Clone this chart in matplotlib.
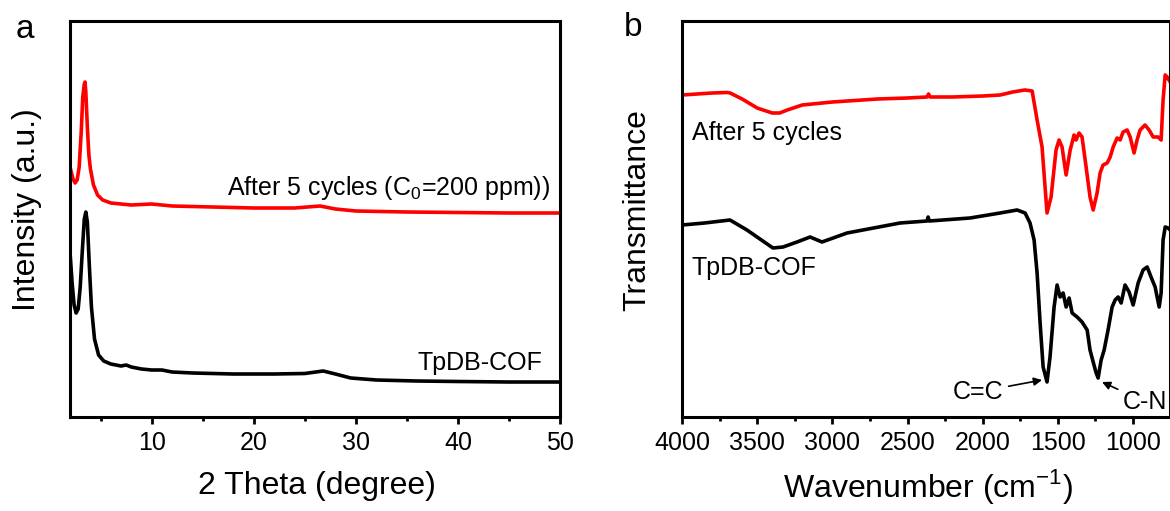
import numpy as np
import matplotlib
matplotlib.use("Agg")
import matplotlib.pyplot as plt

plt.rcParams['font.family'] = ['Liberation Sans', 'DejaVu Sans']
plt.rcParams['mathtext.fontset'] = 'custom'
plt.rcParams['mathtext.rm'] = 'Liberation Sans'

# ---- panel a: XRD (2 theta, intensity a.u.)
xrd_x = [2.0, 2.3, 2.5, 2.7, 2.9, 3.1, 3.25, 3.4, 3.47, 3.55, 3.7, 3.85, 4.0, 4.3, 4.7, 5.2, 6, 8,
         10, 12, 16, 20, 24, 26.5, 28, 30, 35, 40, 45, 50]
xrd_after = [250, 238, 234, 237, 250, 285, 320, 333, 335, 325, 290, 262, 248, 232, 222, 217, 214, 212,
             213, 211, 210, 209, 209, 211, 208, 206, 205, 204.5, 204, 204]

xrd_x2 = [2.0, 2.2, 2.4, 2.6, 2.8, 3.0, 3.2, 3.4, 3.55, 3.7, 3.9, 4.1, 4.4, 4.8, 5.3, 6, 7,
          7.5, 8, 9, 10, 11, 12, 14, 18, 22, 25, 26.8, 28, 29.5, 32, 36, 40, 45, 50]
xrd_cof = [165, 135, 112, 104, 108, 130, 165, 198, 205, 195, 150, 110, 78, 62, 56, 53, 51,
           52, 50, 48, 47, 47, 45, 44, 43, 43, 43.5, 46, 43, 39, 37, 36, 35.5, 35, 35]

# ---- panel b: FTIR (wavenumber, transmittance)
ir_x1 = [4000, 3900, 3800, 3700, 3680, 3600, 3500, 3400, 3350, 3300, 3200, 3000, 2700, 2500,
         2370, 2360, 2350, 2200, 2000, 1884, 1800, 1720, 1671, 1638, 1605, 1590, 1572, 1545,
         1512, 1492, 1472, 1445, 1418, 1392, 1379, 1359, 1339, 1312, 1286, 1265, 1239, 1219,
         1199, 1172, 1152, 1132, 1106, 1086, 1066, 1039, 1019, 993, 973, 953, 920, 893, 866,
         833, 813, 800, 786, 773, 753]
ir_after = [322, 323, 324, 324.5, 324, 318, 309, 304, 304, 307, 312, 315, 318, 319,
            320, 323, 320, 320, 321, 322, 325, 327, 326, 297, 270, 240, 204, 220,
            267, 277, 270, 242, 267, 282, 277, 284, 280, 250, 220, 207, 224, 244,
            252, 254, 260, 270, 279, 277, 285, 287, 280, 264, 277, 287, 292, 287, 280,
            280, 277, 317, 342, 340, 335]

ir_x2 = [4000, 3850, 3681, 3568, 3395, 3328, 3235, 3148, 3069, 2902, 2550, 2370, 2363, 2355,
         2084, 1884, 1771, 1718, 1685, 1658, 1638, 1618, 1598, 1572, 1552, 1525, 1505, 1485,
         1465, 1445, 1425, 1405, 1372, 1339, 1305, 1286, 1265, 1245, 1232, 1212, 1192, 1166,
         1139, 1119, 1099, 1079, 1053, 1026, 999, 966, 933, 906, 880, 853, 826, 813, 800, 786,
         766, 753]
ir_cof = [192, 194, 197, 187, 169, 170, 175, 180, 175, 184, 194, 196, 200, 196,
          199, 204, 207, 204, 194, 177, 144, 94, 50, 35, 60, 110, 132, 120,
          124, 110, 119, 104, 100, 95, 87, 67, 55, 44, 39, 57, 67, 87,
          110, 117, 120, 114, 132, 125, 112, 134, 147, 150, 140, 130, 110, 124, 177, 190,
          189, 187]

fs_tick = 18
fs_lab = 23
fs_txt = 18

W, H = 1170, 511
fig = plt.figure(figsize=(W / 100, H / 100), dpi=100)
ax1 = fig.add_axes([70 / W, 94 / H, 490 / W, 396 / H])
ax2 = fig.add_axes([682 / W, 94 / H, 488 / W, 396 / H])

for ax in (ax1, ax2):
    for sp in ax.spines.values():
        sp.set_linewidth(2.2)
    ax.set_yticks([])
    ax.tick_params(axis='x', which='major', direction='out', length=5, width=2,
                   labelsize=fs_tick, pad=5)
    ax.tick_params(axis='x', which='minor', direction='out', length=3, width=2)
    ax.set_ylim(0, 396)

# panel a
ax1.plot(xrd_x, xrd_after, color='#ff0000', lw=2.6)
ax1.plot(xrd_x2, xrd_cof, color='black', lw=2.6)
ax1.set_xlim(2, 50)
ax1.set_xticks([10, 20, 30, 40, 50])
ax1.set_xticks([5, 15, 25, 35, 45], minor=True)
ax1.text(49.0, 229, 'After 5 cycles (C$_0$=200 ppm))', fontsize=fs_txt, ha='right', va='center')
ax1.text(48.3, 54, 'TpDB-COF', fontsize=fs_txt, ha='right', va='center')

# panel b
ax2.plot(ir_x1, ir_after, color='#ff0000', lw=2.6)
ax2.plot(ir_x2, ir_cof, color='black', lw=2.6)
ax2.set_xlim(4000, 754)
ax2.set_xticks([4000, 3500, 3000, 2500, 2000, 1500, 1000])
ax2.set_xticks([3750, 3250, 2750, 2250, 1750, 1250], minor=True)
ax2.text(3935, 284, 'After 5 cycles', fontsize=fs_txt, ha='left', va='center')
ax2.text(3935, 149, 'TpDB-COF', fontsize=fs_txt, ha='left', va='center')

ax2.annotate('C=C', xy=(1605, 37), xytext=(1864, 25), fontsize=fs_txt, ha='right', va='center',
             arrowprops=dict(arrowstyle='-|>', color='black', lw=1.2, mutation_scale=12,
                             shrinkA=2, shrinkB=0))
ax2.annotate('C-N', xy=(1206, 35), xytext=(1066, 15), fontsize=fs_txt, ha='left', va='center',
             arrowprops=dict(arrowstyle='-|>', color='black', lw=1.2, mutation_scale=12,
                             shrinkA=2, shrinkB=0))

# axis titles
fig.text(317 / W, 1 - 486 / H, '2 Theta (degree)', fontsize=fs_lab, ha='center', va='center')
fig.text(928 / W, 1 - 486 / H, 'Wavenumber (cm$^{-1}$)', fontsize=fs_lab, ha='center', va='center')
fig.text(27 / W, 1 - 210 / H, 'Intensity (a.u.)', fontsize=fs_lab, ha='center', va='center',
         rotation=90)
fig.text(637 / W, 1 - 210 / H, 'Transmittance', fontsize=fs_lab, ha='center', va='center',
         rotation=90)

fig.text(25 / W, 1 - 29 / H, 'a', fontsize=24, ha='center', va='center')
fig.text(633 / W, 1 - 27 / H, 'b', fontsize=24, ha='center', va='center')

fig.savefig('out.png', dpi=100)
